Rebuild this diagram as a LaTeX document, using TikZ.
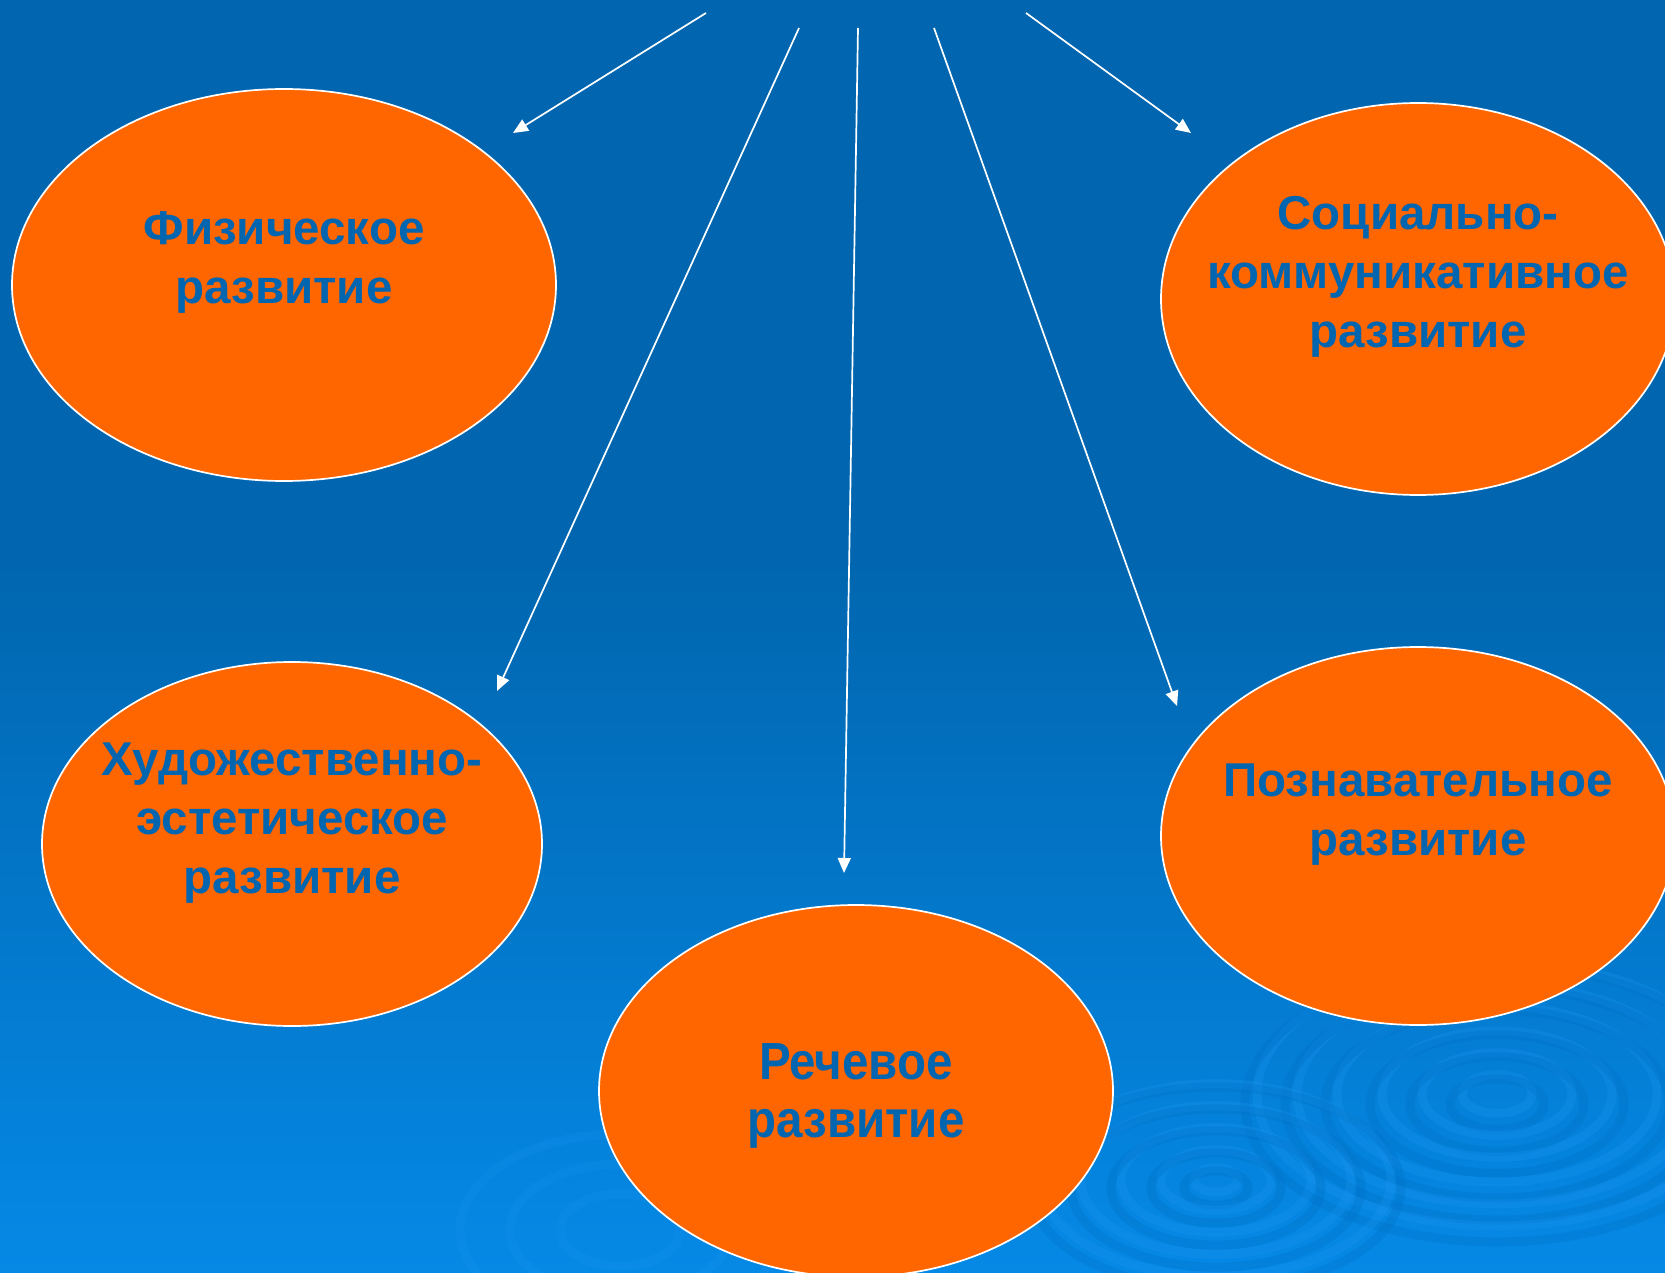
\documentclass[tikz,border=0pt]{standalone}
\usepackage{fontspec}
\setmainfont{Liberation Sans}
\usetikzlibrary{arrows.meta, shapes.geometric}
\definecolor{bgtop}{HTML}{0166AF}
\definecolor{bgbot}{HTML}{0589E6}
\definecolor{ovalfill}{HTML}{FF6600}
\definecolor{labelblue}{HTML}{0265B0}
\definecolor{ringlight}{HTML}{1A95F0}
\definecolor{ringdark}{HTML}{0070C4}
\begin{document}
\begin{tikzpicture}[x=1pt, y=-1pt]
        \tikzstyle{oval}=[ellipse, draw=white, line width=1.7pt, fill=ovalfill, inner sep=0pt]
        \tikzstyle{label}=[text=labelblue, align=center, font=\fontsize{47.5}{59}\selectfont\bfseries]
        \tikzstyle{arrow}=[draw=white, line width=1.7pt, -{Triangle[length=15pt, width=13pt]}]
        \tikzstyle{ring}=[line width=9pt, opacity=0.3]

% background: plain dark blue above, lighter towards the bottom
        \fill[bgtop] (0,0) rectangle (1665,560);
        \shade[top color=bgtop, bottom color=bgbot] (0,560) rectangle (1665,1273);
        \useasboundingbox (0,0) rectangle (1665,1273);

% faint ripples behind the ovals
        \foreach \r in {35,75,115,160,200,240} {
            \draw[ring, ringlight] (1497,1094) ellipse ({\r} and {0.55*\r});
            \draw[ring, ringdark] (1497,1104) ellipse ({\r+12} and {0.55*\r+6});
        }
        \foreach \r in {22,55,95,135,175} {
            \draw[ring, ringlight] (1216,1180) ellipse ({\r} and {0.55*\r});
            \draw[ring, ringdark] (1216,1188) ellipse ({\r+10} and {0.55*\r+5});
        }
        \foreach \r in {60,110,160} {
            \draw[ring, ringlight, opacity=0.2] (620,1230) ellipse ({\r} and {0.6*\r});
        }

% ovals
        \node[oval, minimum width=544pt, minimum height=392pt] (phys) at (284,285) {};
        \node[oval, minimum width=514pt, minimum height=392pt] (social) at (1418,299) {};
        \node[oval, minimum width=500pt, minimum height=364pt] (art) at (292,844) {};
        \node[oval, minimum width=514pt, minimum height=378pt] (cogn) at (1418,836) {};
        \node[oval, minimum width=514pt, minimum height=372pt] (speech) at (856,1091) {};

% texts
        \node[label] (physText) at ([yshift=23pt]phys.center) {Физическое\\развитие};
        \node[label] (socialText) at ([yshift=22pt]social.center) {Социально-\\коммуникативное\\развитие};
        \node[label] (artText) at ([yshift=21pt]art.center) {Художественно-\\эстетическое\\развитие};
        \node[label] (cognText) at ([yshift=21pt]cogn.center) {Познавательное\\развитие};
        \node[label, font=\fontsize{47.5}{53}\selectfont\bfseries, yscale=1.1, transform shape] (speechText) at ([yshift=-5pt]speech.center) {Речевое\\развитие};

% arrows
        \coordinate (s1) at (706,13);   \coordinate (t1) at (513,133);
        \coordinate (s2) at (799,28);   \coordinate (t2) at (497,691);
        \coordinate (s3) at (858,28);   \coordinate (t3) at (844,873);
        \coordinate (s4) at (934,28);   \coordinate (t4) at (1177,706);
        \coordinate (s5) at (1026,13);  \coordinate (t5) at (1191,133);
        \foreach \i in {1,...,5} \draw[arrow] (s\i) -- (t\i);

    \end{tikzpicture}
\end{document}
